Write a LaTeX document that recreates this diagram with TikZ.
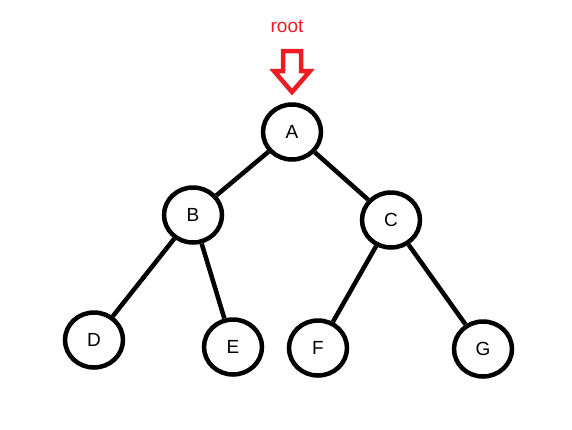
\documentclass[tikz,border=0pt]{standalone}
\usepackage{fontspec}
\setmainfont{Liberation Sans}
\usepackage{tikz}
\usetikzlibrary{shapes.geometric}
\usepackage{xcolor}
\definecolor{paintred}{RGB}{237,28,36}

\begin{document}
\begin{tikzpicture}[x=1pt,y=-1pt,
  treenode/.style={draw, ellipse, line width=4.5pt, minimum width=58pt, minimum height=55pt, inner sep=0pt, font=\fontsize{19}{21}\selectfont},
  treeedge/.style={line width=4.5pt}]
\useasboundingbox (0,0) rectangle (572,429);
% Etichetta della radice
\node[text=paintred, font=\fontsize{19}{21}\selectfont] (rootlabel) at (287,26) {root};
% Freccia vuota verso A
\draw[paintred, line width=4.5pt, line join=miter] (283,51) -- (301,51) -- (301,71) -- (310,71) -- (292,92) -- (274,71) -- (283,71) -- cycle;
% Nodi dell'albero
\node[treenode] (A) at (292,132) {A};
\node[treenode] (B) at (193,215) {B};
\node[treenode] (C) at (391,220) {C};
\node[treenode] (D) at (94,340) {D};
\node[treenode] (E) at (233,347) {E};
\node[treenode] (F) at (318,348) {F};
\node[treenode] (G) at (483,349) {G};
% Archi
\draw[treeedge] (A) -- (B);
\draw[treeedge] (A) -- (C);
\draw[treeedge] (B) -- (D);
\draw[treeedge] (B) -- (E);
\draw[treeedge] (C) -- (F);
\draw[treeedge] (C) -- (G);
\end{tikzpicture}
\end{document}
